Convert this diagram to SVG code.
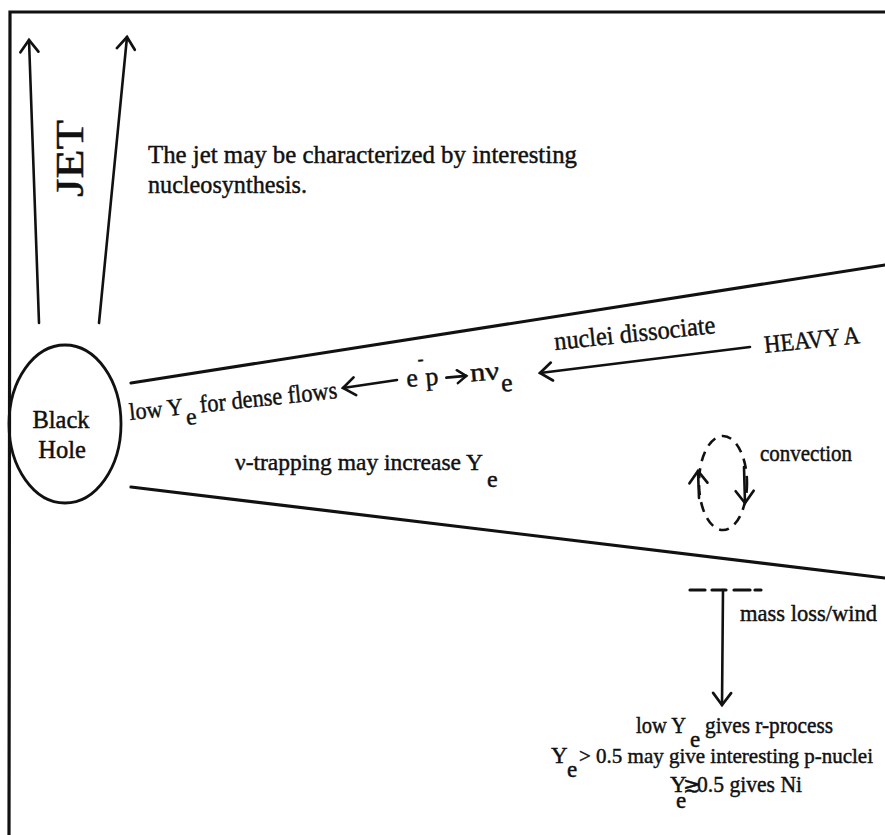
<svg xmlns="http://www.w3.org/2000/svg" width="885" height="835" viewBox="0 0 885 835">
  <style>
    .ln { fill: none; stroke: #111; stroke-width: 3.2; stroke-linecap: round; }
    .ar { fill: none; stroke: #111; stroke-width: 2.6; stroke-linecap: round; }
    .t { font-family: "Liberation Serif", "Times New Roman", "DejaVu Serif", serif; fill: #111; stroke: #111; stroke-width: 0.45; }
  </style>
  <defs>
    <marker id="head" viewBox="0 0 16 20" refX="14" refY="10" markerWidth="16" markerHeight="20" markerUnits="userSpaceOnUse" orient="auto" overflow="visible">
      <path d="M2,1 L14,10 L2,19" fill="none" stroke="#111" stroke-width="2.7" stroke-linecap="round"/>
    </marker>
    <marker id="headSmall" viewBox="0 0 12 14" refX="10" refY="7" markerWidth="12" markerHeight="14" markerUnits="userSpaceOnUse" orient="auto" overflow="visible">
      <path d="M1,0.5 L10,7 L1,13.5" fill="none" stroke="#111" stroke-width="2.5" stroke-linecap="round"/>
    </marker>
  </defs>

  <rect width="885" height="835" fill="#fff"/>

  <!-- frame: top and left edges only -->
  <path class="ln" d="M9,835 L10,12 L885,12" stroke-width="2.4"/>

  <g id="connectors">
    <!-- jet -->
    <path class="ar" d="M39,323 L29,40" marker-end="url(#head)"/>
    <path class="ar" d="M99,323 L127,37" marker-end="url(#head)"/>
    <!-- disk edges -->
    <path class="ln" d="M131,383 L885,265"/>
    <path class="ln" d="M131,487 L885,578"/>
    <!-- inflow arrows -->
    <path class="ar" d="M750,347 L540,373" marker-end="url(#head)"/>
    <path class="ar" d="M397,380 L343,388" marker-end="url(#head)"/>
    <!-- convection loop -->
    <ellipse cx="723" cy="483" rx="24" ry="47" fill="none" stroke="#111" stroke-width="2.6" stroke-dasharray="10 7"/>
    <path class="ar" d="M699,498 L698,471" marker-end="url(#head)"/>
    <path class="ar" d="M744,467 L745,503" marker-end="url(#head)"/>
    <!-- mass loss / wind -->
    <path class="ln" d="M690,590 H705 M712,590 H726 M734,590 H750 M755,590 H761"/>
    <path class="ar" d="M723,590 L722,705" marker-end="url(#head)"/>
  </g>

  <g id="black-hole">
    <ellipse cx="65" cy="424" rx="56" ry="79" fill="none" stroke="#111" stroke-width="2.8"/>
    <text class="t" font-size="24.5" text-anchor="middle"><tspan x="61" y="428">Black</tspan><tspan x="62" y="458">Hole</tspan></text>
  </g>

  <g id="jet-label">
    <text class="t" font-size="39" stroke-width="1" transform="translate(83,197) rotate(-90)" textLength="77" lengthAdjust="spacingAndGlyphs">JET</text>
  </g>

  <g id="jet-note">
    <text class="t" font-size="26" x="148" y="163" textLength="429" lengthAdjust="spacingAndGlyphs">The jet may be characterized by interesting</text>
    <text class="t" font-size="26" x="148" y="193" textLength="159" lengthAdjust="spacingAndGlyphs">nucleosynthesis.</text>
  </g>

  <g id="heavy-a">
    <text class="t" font-size="25" x="765" y="353" transform="rotate(-6 765 353)" textLength="96" lengthAdjust="spacingAndGlyphs">HEAVY A</text>
  </g>

  <g id="nuclei-dissociate">
    <text class="t" font-size="26" x="555" y="350" transform="rotate(-6 555 350)" textLength="162" lengthAdjust="spacingAndGlyphs">nuclei dissociate</text>
  </g>

  <g id="electron-capture" transform="rotate(-5 408 387)">
    <text class="t" font-size="26" x="407" y="387">e</text>
    <text class="t" font-size="18" x="420" y="366">-</text>
    <text class="t" font-size="26" x="426" y="387">p</text>
    <path class="ar" d="M447,381 L467,381" stroke-width="2.3" marker-end="url(#headSmall)"/>
    <text class="t" font-size="26" x="471" y="387" textLength="29" lengthAdjust="spacingAndGlyphs">nν</text>
    <text class="t" font-size="26" x="501" y="400">e</text>
  </g>

  <g id="low-ye-dense" transform="rotate(-6 130 420)">
    <text class="t" font-size="24" x="130" y="420" textLength="54" lengthAdjust="spacingAndGlyphs">low Y</text>
    <text class="t" font-size="24" x="186" y="431">e</text>
    <text class="t" font-size="25" x="201" y="420" textLength="138" lengthAdjust="spacingAndGlyphs">for dense flows</text>
  </g>

  <g id="nu-trapping">
    <text class="t" font-size="23.5" x="235" y="470" textLength="248" lengthAdjust="spacingAndGlyphs">ν-trapping may increase Y</text>
    <text class="t" font-size="24" x="487" y="487">e</text>
  </g>

  <g id="convection">
    <text class="t" font-size="23" x="760" y="461" textLength="92" lengthAdjust="spacingAndGlyphs">convection</text>
  </g>

  <g id="mass-loss">
    <text class="t" font-size="24" x="740" y="621" textLength="137" lengthAdjust="spacingAndGlyphs">mass loss/wind</text>
  </g>

  <g id="outcomes">
    <text class="t" font-size="23" x="636" y="733" textLength="50" lengthAdjust="spacingAndGlyphs">low Y</text>
    <text class="t" font-size="23" x="690" y="747">e</text>
    <text class="t" font-size="23" x="705" y="733" textLength="128" lengthAdjust="spacingAndGlyphs">gives r-process</text>

    <text class="t" font-size="23" x="551" y="763">Y</text>
    <text class="t" font-size="23" x="567" y="777">e</text>
    <text class="t" font-size="21.5" x="579" y="763" textLength="294" lengthAdjust="spacingAndGlyphs">&gt; 0.5 may give interesting p-nuclei</text>

    <text class="t" font-size="23" x="670" y="792">Y</text>
    <text class="t" font-size="23" x="676" y="808">e</text>
    <text class="t" font-size="21" x="683" y="792">≳</text>
    <text class="t" font-size="23" x="697" y="792" textLength="105" lengthAdjust="spacingAndGlyphs">0.5 gives Ni</text>
  </g>
</svg>
